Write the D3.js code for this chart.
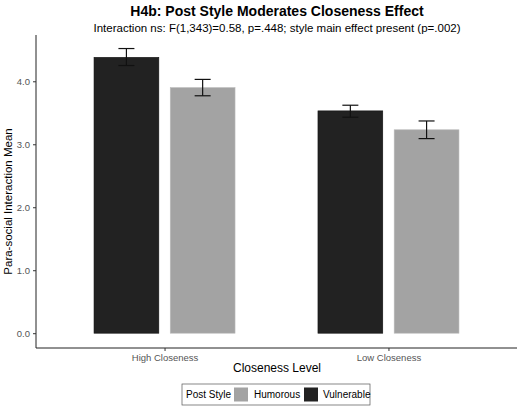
<!DOCTYPE html>
<html>
<head>
<meta charset="utf-8">
<script src="https://cdn.jsdelivr.net/npm/d3@7"></script>
<style>body{margin:0;background:#fff;font-family:"Liberation Sans",Arial,sans-serif}</style>
</head>
<body>
<script>
var categories = ["High Closeness", "Low Closeness"];
var styles = ["Vulnerable", "Humorous"];
var vulnerable = [4.38, 3.53];
var vulnerableLo = [4.25, 3.43];
var vulnerableHi = [4.52, 3.62];
var humorous = [3.90, 3.23];
var humorousLo = [3.77, 3.09];
var humorousHi = [4.03, 3.37];
var yTicks = [0, 1, 2, 3, 4];
var colors = {Vulnerable: "#222222", Humorous: "#a3a3a3"};

var data = [];
categories.forEach(function (c, i) {
  data.push({cat: c, style: "Vulnerable", v: vulnerable[i], lo: vulnerableLo[i], hi: vulnerableHi[i]});
  data.push({cat: c, style: "Humorous", v: humorous[i], lo: humorousLo[i], hi: humorousHi[i]});
});

var w = 520, h = 406;
var pLeft = 36, pRight = 517, pTop = 35, pBottom = 348;

var svg = d3.select("body").append("svg").attr("width", w).attr("height", h);

var x = d3.scalePoint().domain(categories).range([pLeft, pRight]).padding(0.574);
var xi = d3.scaleBand().domain(styles).range([-70.5, 70.5]).paddingInner(0.15);
var y = d3.scaleLinear().domain([-0.235, 4.735]).range([pBottom, pTop]);

svg.selectAll("rect.bar").data(data).enter().append("rect")
   .attr("class", "bar")
   .attr("x", function (d) { return x(d.cat) + xi(d.style); })
   .attr("y", function (d) { return y(d.v); })
   .attr("width", xi.bandwidth())
   .attr("height", function (d) { return y(0) - y(d.v); })
   .attr("fill", function (d) { return colors[d.style]; })
   .attr("stroke", function (d) { return d.style == "Vulnerable" ? "#111" : "#bbb"; })
   .attr("stroke-width", 0.6);

var eb = svg.selectAll("g.err").data(data).enter().append("g")
   .attr("transform", function (d) { return "translate(" + (x(d.cat) + xi(d.style) + xi.bandwidth() / 2) + ",0)"; })
   .attr("stroke", "#111").attr("stroke-width", 1.2);
eb.append("line").attr("y1", function (d) { return y(d.lo); }).attr("y2", function (d) { return y(d.hi); });
eb.append("line").attr("x1", -8).attr("x2", 8).attr("y1", function (d) { return y(d.lo); }).attr("y2", function (d) { return y(d.lo); });
eb.append("line").attr("x1", -8).attr("x2", 8).attr("y1", function (d) { return y(d.hi); }).attr("y2", function (d) { return y(d.hi); });

var ya = svg.append("g").attr("transform", "translate(" + pLeft + ",0)")
   .call(d3.axisLeft(y).tickValues(yTicks).tickSize(3).tickSizeOuter(0));
ya.select(".domain").attr("stroke", "#222").attr("d", "M0," + pTop + "V" + pBottom);
ya.selectAll("text").attr("fill", "#555").attr("font-size", 9.5).attr("font-family", "Liberation Sans, Arial");
ya.selectAll(".tick line").attr("stroke", "#333");

var xa = svg.append("g").attr("transform", "translate(0," + pBottom + ")")
   .call(d3.axisBottom(x).tickSize(3).tickSizeOuter(0));
xa.select(".domain").attr("stroke", "#222").attr("d", "M" + pLeft + ",0H" + pRight);
xa.selectAll("text").attr("fill", "#555").attr("font-size", 9.5).attr("font-family", "Liberation Sans, Arial");
xa.selectAll(".tick line").attr("stroke", "#333");

svg.append("text").attr("x", 277).attr("y", 16).attr("text-anchor", "middle")
   .attr("font-weight", "bold").attr("font-size", 14).text("H4b: Post Style Moderates Closeness Effect");
svg.append("text").attr("x", 277).attr("y", 32).attr("text-anchor", "middle")
   .attr("font-size", 11.5).text("Interaction ns: F(1,343)=0.58, p=.448; style main effect present (p=.002)");
svg.append("text").attr("x", 277).attr("y", 372).attr("text-anchor", "middle")
   .attr("font-size", 12).text("Closeness Level");
svg.append("text").attr("transform", "translate(12," + ((pTop + pBottom) / 2 + 10) + ") rotate(-90)")
   .attr("text-anchor", "middle").attr("font-size", 11.5).text("Para-social Interaction Mean");

// legend
var lg = svg.append("g");
lg.append("rect").attr("x", 182).attr("y", 384).attr("width", 188).attr("height", 21)
  .attr("fill", "#fff").attr("stroke", "#555").attr("stroke-width", 0.7);
lg.append("text").attr("x", 186).attr("y", 398).attr("font-size", 10).text("Post Style");
var lk = [["Humorous", 234, 254], ["Vulnerable", 304, 323]];
lk.forEach(function (k) {
  lg.append("rect").attr("x", k[1]).attr("y", 387.5).attr("width", 14).attr("height", 14).attr("fill", colors[k[0]]);
  lg.append("text").attr("x", k[2]).attr("y", 398).attr("font-size", 10).text(k[0]);
});
</script>
</body>
</html>
